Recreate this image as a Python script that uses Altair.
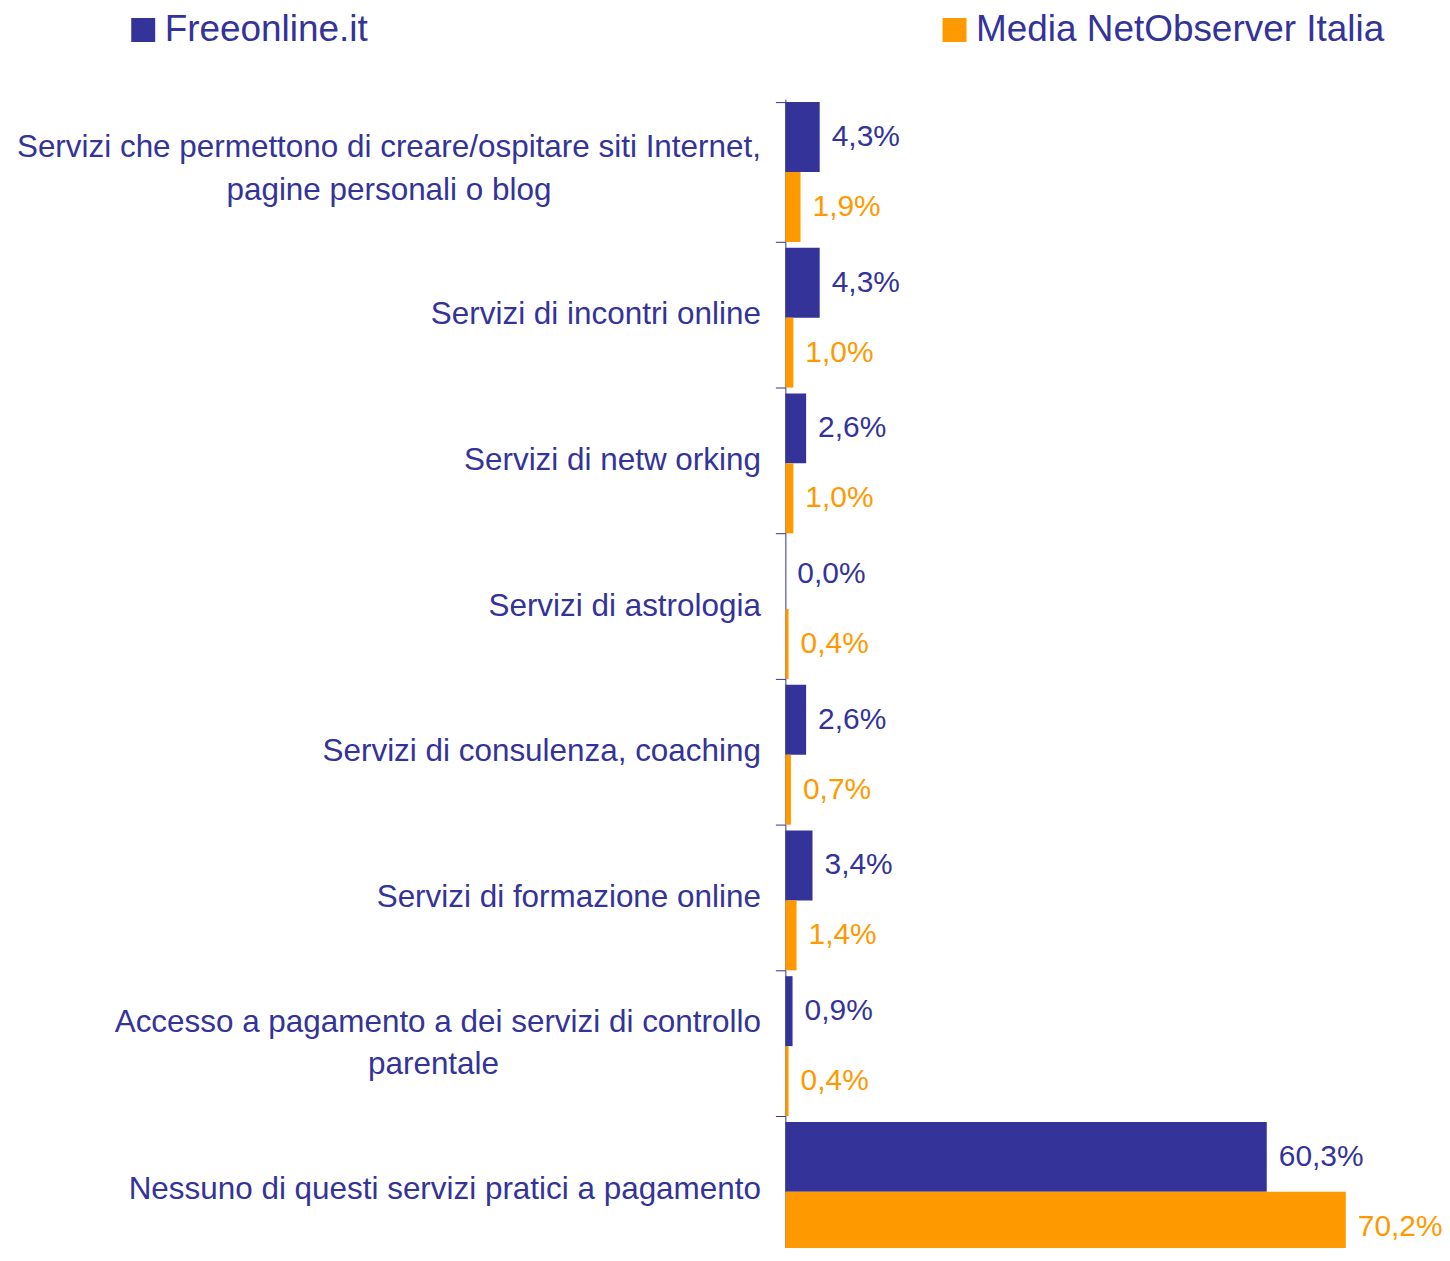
import altair as alt
import pandas as pd

NB = "\u00a0"
ZW = "\u200b"

categories = [
    "Servizi che permettono di creare/ospitare siti Internet,\npagine personali o blog" + NB * 24 + ZW,
    "Servizi di incontri online",
    "Servizi di netw orking",
    "Servizi di astrologia",
    "Servizi di consulenza, coaching",
    "Servizi di formazione online",
    "Accesso a pagamento a dei servizi di controllo\nparentale" + NB * 30 + ZW,
    "Nessuno di questi servizi pratici a pagamento",
]
series_names = ["Freeonline.it", "Media NetObserver Italia"]
freeonline = [4.3, 4.3, 2.6, 0.0, 2.6, 3.4, 0.9, 60.3]
media = [1.9, 1.0, 1.0, 0.4, 0.7, 1.4, 0.4, 70.2]
colors = ["#333399", "#FF9900"]

rows = []
for c, a, b in zip(categories, freeonline, media):
    rows.append({"category": c, "series": series_names[0], "value": a})
    rows.append({"category": c, "series": series_names[1], "value": b})
df = pd.DataFrame(rows)

FONT = "Liberation Sans"
NAVY = "#333399"

# multi-line labels: [line1, blank, line2]; single-line: [blank, label]; half line height
LABEL_EXPR = (
    "indexof(datum.label, '\\n') >= 0 "
    "? [split(datum.label, '\\n')[0], '" + ZW + "', split(datum.label, '\\n')[1]] "
    ": ['" + ZW + "', datum.label]"
)

base = alt.Chart(df).encode(
    y=alt.Y(
        "category:N",
        sort=categories,
        scale=alt.Scale(paddingInner=0.04, paddingOuter=0.02),
        axis=alt.Axis(
            title=None,
            tickBand="extent",
            tickSize=10,
            tickColor=NAVY,
            tickWidth=1,
            domainColor=NAVY,
            domainWidth=1,
            grid=False,
            labelFont=FONT,
            labelFontSize=31.5,
            labelColor=NAVY,
            labelPadding=15,
            labelLimit=1000,
            labelLineHeight=21.25,
            labelOffset=-24,
            labelExpr=LABEL_EXPR,
        ),
    ),
    yOffset=alt.YOffset(
        "series:N", sort=series_names, scale=alt.Scale(paddingInner=0, paddingOuter=0)
    ),
    color=alt.Color(
        "series:N",
        scale=alt.Scale(domain=series_names, range=colors),
        legend=alt.Legend(
            title=None,
            orient="none",
            legendX=-662,
            legendY=-88,
            direction="horizontal",
            symbolType="square",
            symbolSize=576,
            symbolStrokeWidth=0,
            symbolOpacity=1,
            labelFont=FONT,
            labelFontSize=37,
            labelColor=NAVY,
            labelOffset=3,
            labelLimit=1000,
            columnPadding=569,
        ),
    ),
)

bars = base.mark_bar().encode(
    x=alt.X("value:Q", scale=alt.Scale(domain=[0, 80]), axis=None),
)

labels = base.mark_text(
    align="left", baseline="middle", dx=12, font=FONT, fontSize=30
).transform_calculate(
    label="replace(format(datum.value, '.1f'), '.', ',') + '%'"
).encode(
    x=alt.X("value:Q"),
    text=alt.Text("label:N"),
)

chart = (
    alt.layer(bars, labels)
    .properties(
        width=640,
        height=1168,
        autosize=alt.AutoSizeParams(type="none"),
        padding={"left": 779, "top": 90, "right": 18, "bottom": -18},
    )
    .configure(background="white")
    .configure_view(stroke=None, strokeWidth=0)
)

chart.save("out.html", embed_options={"renderer": "svg", "actions": False})
